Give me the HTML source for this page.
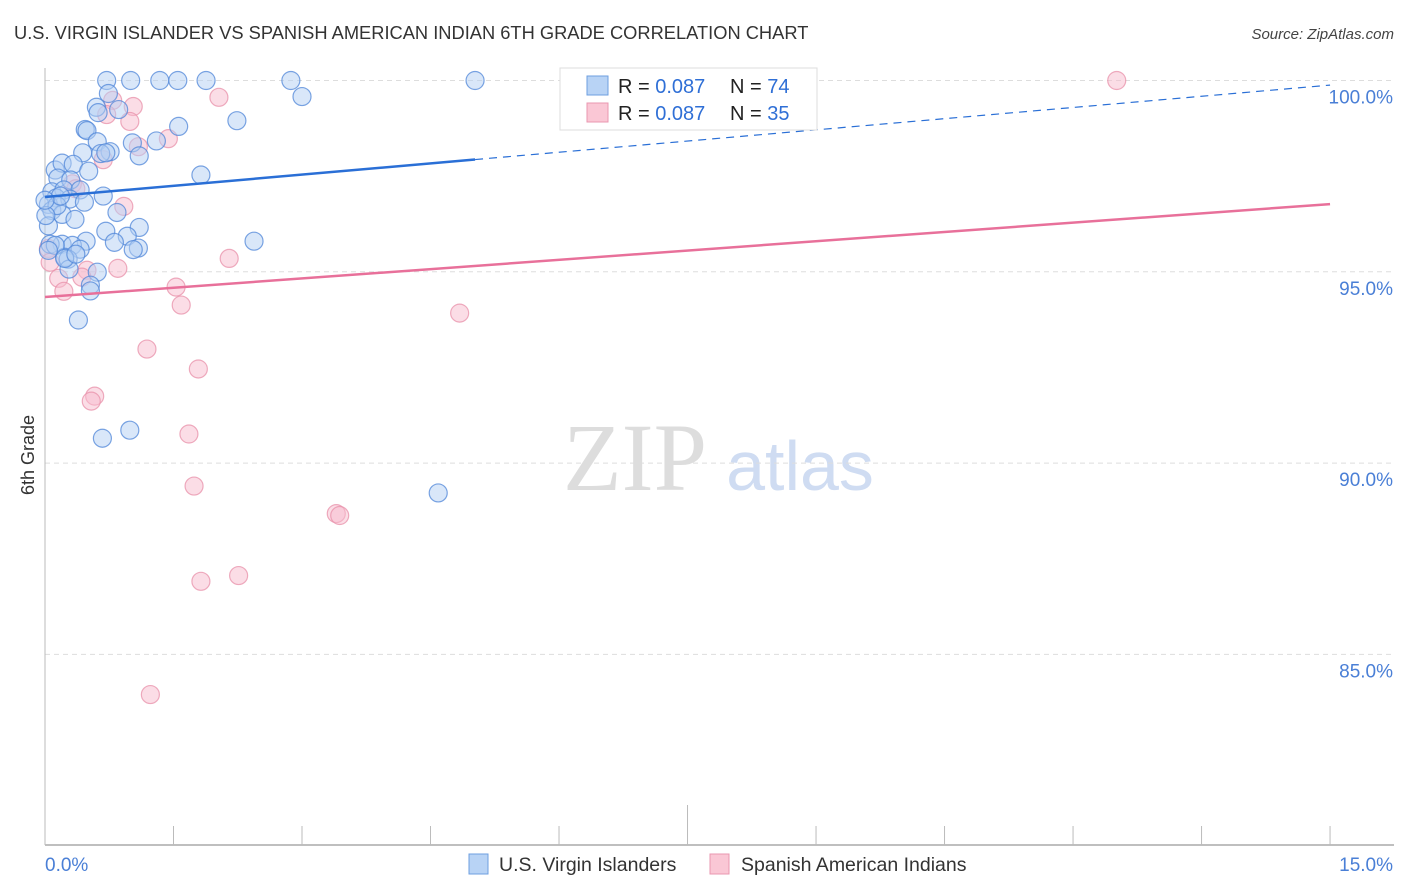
<!DOCTYPE html>
<html><head><meta charset="utf-8"><style>
body{margin:0;background:#fff;font-family:"Liberation Sans",sans-serif}
svg{display:block}
</style></head><body>
<svg id="chart" width="1406" height="892" xmlns="http://www.w3.org/2000/svg">
<text x="14" y="39" font-size="18.3" fill="#333">U.S. VIRGIN ISLANDER VS SPANISH AMERICAN INDIAN 6TH GRADE CORRELATION CHART</text>
<text x="1394" y="39" font-size="15" fill="#444" text-anchor="end" font-style="italic">Source: ZipAtlas.com</text>
<text transform="translate(34,455) rotate(-90)" font-size="18" fill="#333" text-anchor="middle">6th Grade</text>
<g><text x="635" y="490" font-size="96" fill="#ddd" font-family="Liberation Serif" text-anchor="middle">ZIP</text><text x="800" y="490" font-size="70" fill="#cfdcf2" text-anchor="middle">atlas</text></g>
<g id="grid"></g><g id="axes"></g><g id="pts"></g><g id="lines"></g>
<g>
<rect x="560" y="68" width="257" height="62" fill="#fff" stroke="#ddd"/>
<rect x="587" y="76" width="21" height="19" fill="#b8d3f5" stroke="#6e9fe0"/>
<rect x="587" y="103" width="21" height="19" fill="#fac7d5" stroke="#ea97b0"/>
<text x="618" y="93" font-size="20" fill="#222">R = <tspan fill="#2f6fd6">0.087</tspan></text>
<text x="730" y="93" font-size="20" fill="#222">N = <tspan fill="#2f6fd6">74</tspan></text>
<text x="618" y="120" font-size="20" fill="#222">R = <tspan fill="#2f6fd6">0.087</tspan></text>
<text x="730" y="120" font-size="20" fill="#222">N = <tspan fill="#2f6fd6">35</tspan></text>
</g>
<g>
<rect x="469" y="854" width="19" height="20" fill="#b8d3f5" stroke="#6e9fe0"/>
<text x="499" y="871" font-size="19.5" fill="#333">U.S. Virgin Islanders</text>
<rect x="710" y="854" width="19" height="20" fill="#fac7d5" stroke="#ea97b0"/>
<text x="741" y="871" font-size="19.5" fill="#333">Spanish American Indians</text>
</g>
</svg>
<script>
const xTicks=[0,1.5,3,4.5,6,7.5,9,10.5,12,13.5,15];
const yTicks=[85,90,95,100];
const yTickLabels=["85.0%","90.0%","95.0%","100.0%"];
const blueX=[0.72,1.0,1.34,1.55,1.88,2.87,5.02,3.0,0.74,0.6,0.86,0.62,2.24,1.56,0.47,0.49,1.3,1.02,0.61,0.76,0.65,0.71,1.1,0.44,1.82,0.12,0.2,0.33,0.51,0.15,0.3,0.08,0.22,0.41,0.68,0.13,0.29,0.46,0.04,0.08,0.2,0.35,0.84,1.1,0.71,0.96,0.04,2.44,0.48,0.81,0.2,0.32,0.41,1.09,0.06,0.23,0.27,0.61,0.28,0.53,0.53,0.39,0.67,0.99,4.59,0.12,0.04,0.14,0.01,0.18,0.0,0.23,0.36,1.03];
const blueY=[100,100,100,100,100,100,100,99.58,99.66,99.3,99.24,99.16,98.95,98.8,98.72,98.69,98.42,98.37,98.4,98.14,98.09,98.11,98.03,98.11,97.53,97.66,97.84,97.81,97.63,97.45,97.4,97.09,97.14,97.14,96.98,96.93,96.9,96.82,96.76,96.6,96.5,96.37,96.55,96.16,96.06,95.93,96.2,95.8,95.8,95.77,95.72,95.69,95.59,95.62,95.72,95.38,95.33,94.99,95.07,94.65,94.5,93.74,90.65,90.86,89.22,95.69,95.56,96.73,96.47,96.98,96.87,95.35,95.46,95.58];
const pinkX=[6.44,12.51,2.03,0.79,1.03,0.72,0.99,1.44,1.09,0.68,0.32,0.36,0.92,2.15,0.85,0.49,0.16,0.22,1.53,1.59,4.84,1.19,1.79,0.58,0.54,1.68,1.74,3.4,3.44,2.26,1.82,1.23,0.04,0.06,0.43];
const pinkY=[100,100,99.56,99.48,99.32,99.11,98.93,98.48,98.27,97.93,97.3,97.17,96.71,95.35,95.09,95.04,94.83,94.49,94.6,94.13,93.92,92.98,92.46,91.75,91.62,90.76,89.4,88.68,88.63,87.06,86.91,83.95,95.61,95.25,94.86];
const blueFit=[96.955,0.195];   // intercept at x=0, slope per 1%
const pinkFit=[94.34,0.162];
const NS="http://www.w3.org/2000/svg";
const X=v=>45+v*85.67, Y=v=>80.5+(100-v)*38.26;
function mk(p,tag,a){const e=document.createElementNS(NS,tag);for(const k in a)e.setAttribute(k,a[k]);document.getElementById(p).appendChild(e);return e;}
yTicks.forEach((t,i)=>{
 const g=mk('grid','line',{x1:45,x2:1394,y1:Y(t),y2:Y(t),stroke:"#ddd","stroke-dasharray":"5,4"});
 
 
 const l=mk('axes','text',{x:1393,y:Y(t)+23,"font-size":19,fill:"#4a7fd6","text-anchor":"end"});
 l.textContent=yTickLabels[i];
 
 
});
const yl=mk('axes','line',{x1:45,x2:45,y1:68,y2:845,stroke:"#bbb"});


const xl=mk('axes','line',{x1:45,x2:1394,y1:845,y2:845,stroke:"#aaa","stroke-width":1.5});


xTicks.forEach((t,i)=>{
 const tk=mk('axes','line',{x1:X(t),x2:X(t),y1:i==5?805:826,y2:845,stroke:"#bbb"});
 
 
});
[[0,"0.0%","start"],[15,"15.0%","end"]].forEach(([t,s,a])=>{
 const l=mk('axes','text',{x:t==0?45:1393,y:871,"font-size":19,fill:"#4a7fd6","text-anchor":a});
 l.textContent=s;
 
 
});
function dots(xs,ys,fill,stroke,name){xs.forEach((x,i)=>{
 const c=mk('pts','circle',{cx:X(x),cy:Y(ys[i]),r:9,fill:fill,"fill-opacity":0.5,stroke:stroke,"stroke-width":1.2,"stroke-opacity":0.75});
 
 
});}
dots(pinkX,pinkY,"#f8bccd","#e890aa","pink-point");
dots(blueX,blueY,"#b3cff3","#4f86d8","blue-point");
const f=(fit,x)=>fit[0]+fit[1]*x;
const b1=mk('lines','line',{x1:X(0),y1:Y(f(blueFit,0)),x2:X(5.02),y2:Y(f(blueFit,5.02)),stroke:"#2a6fd6","stroke-width":2.5});


const b2=mk('lines','line',{x1:X(5.02),y1:Y(f(blueFit,5.02)),x2:X(15),y2:Y(f(blueFit,15)),stroke:"#2a6fd6","stroke-width":1.2,"stroke-dasharray":"8,6"});


const p1=mk('lines','line',{x1:X(0),y1:Y(f(pinkFit,0)),x2:X(15),y2:Y(f(pinkFit,15)),stroke:"#e8709a","stroke-width":2.5});


</script>
</body></html>
